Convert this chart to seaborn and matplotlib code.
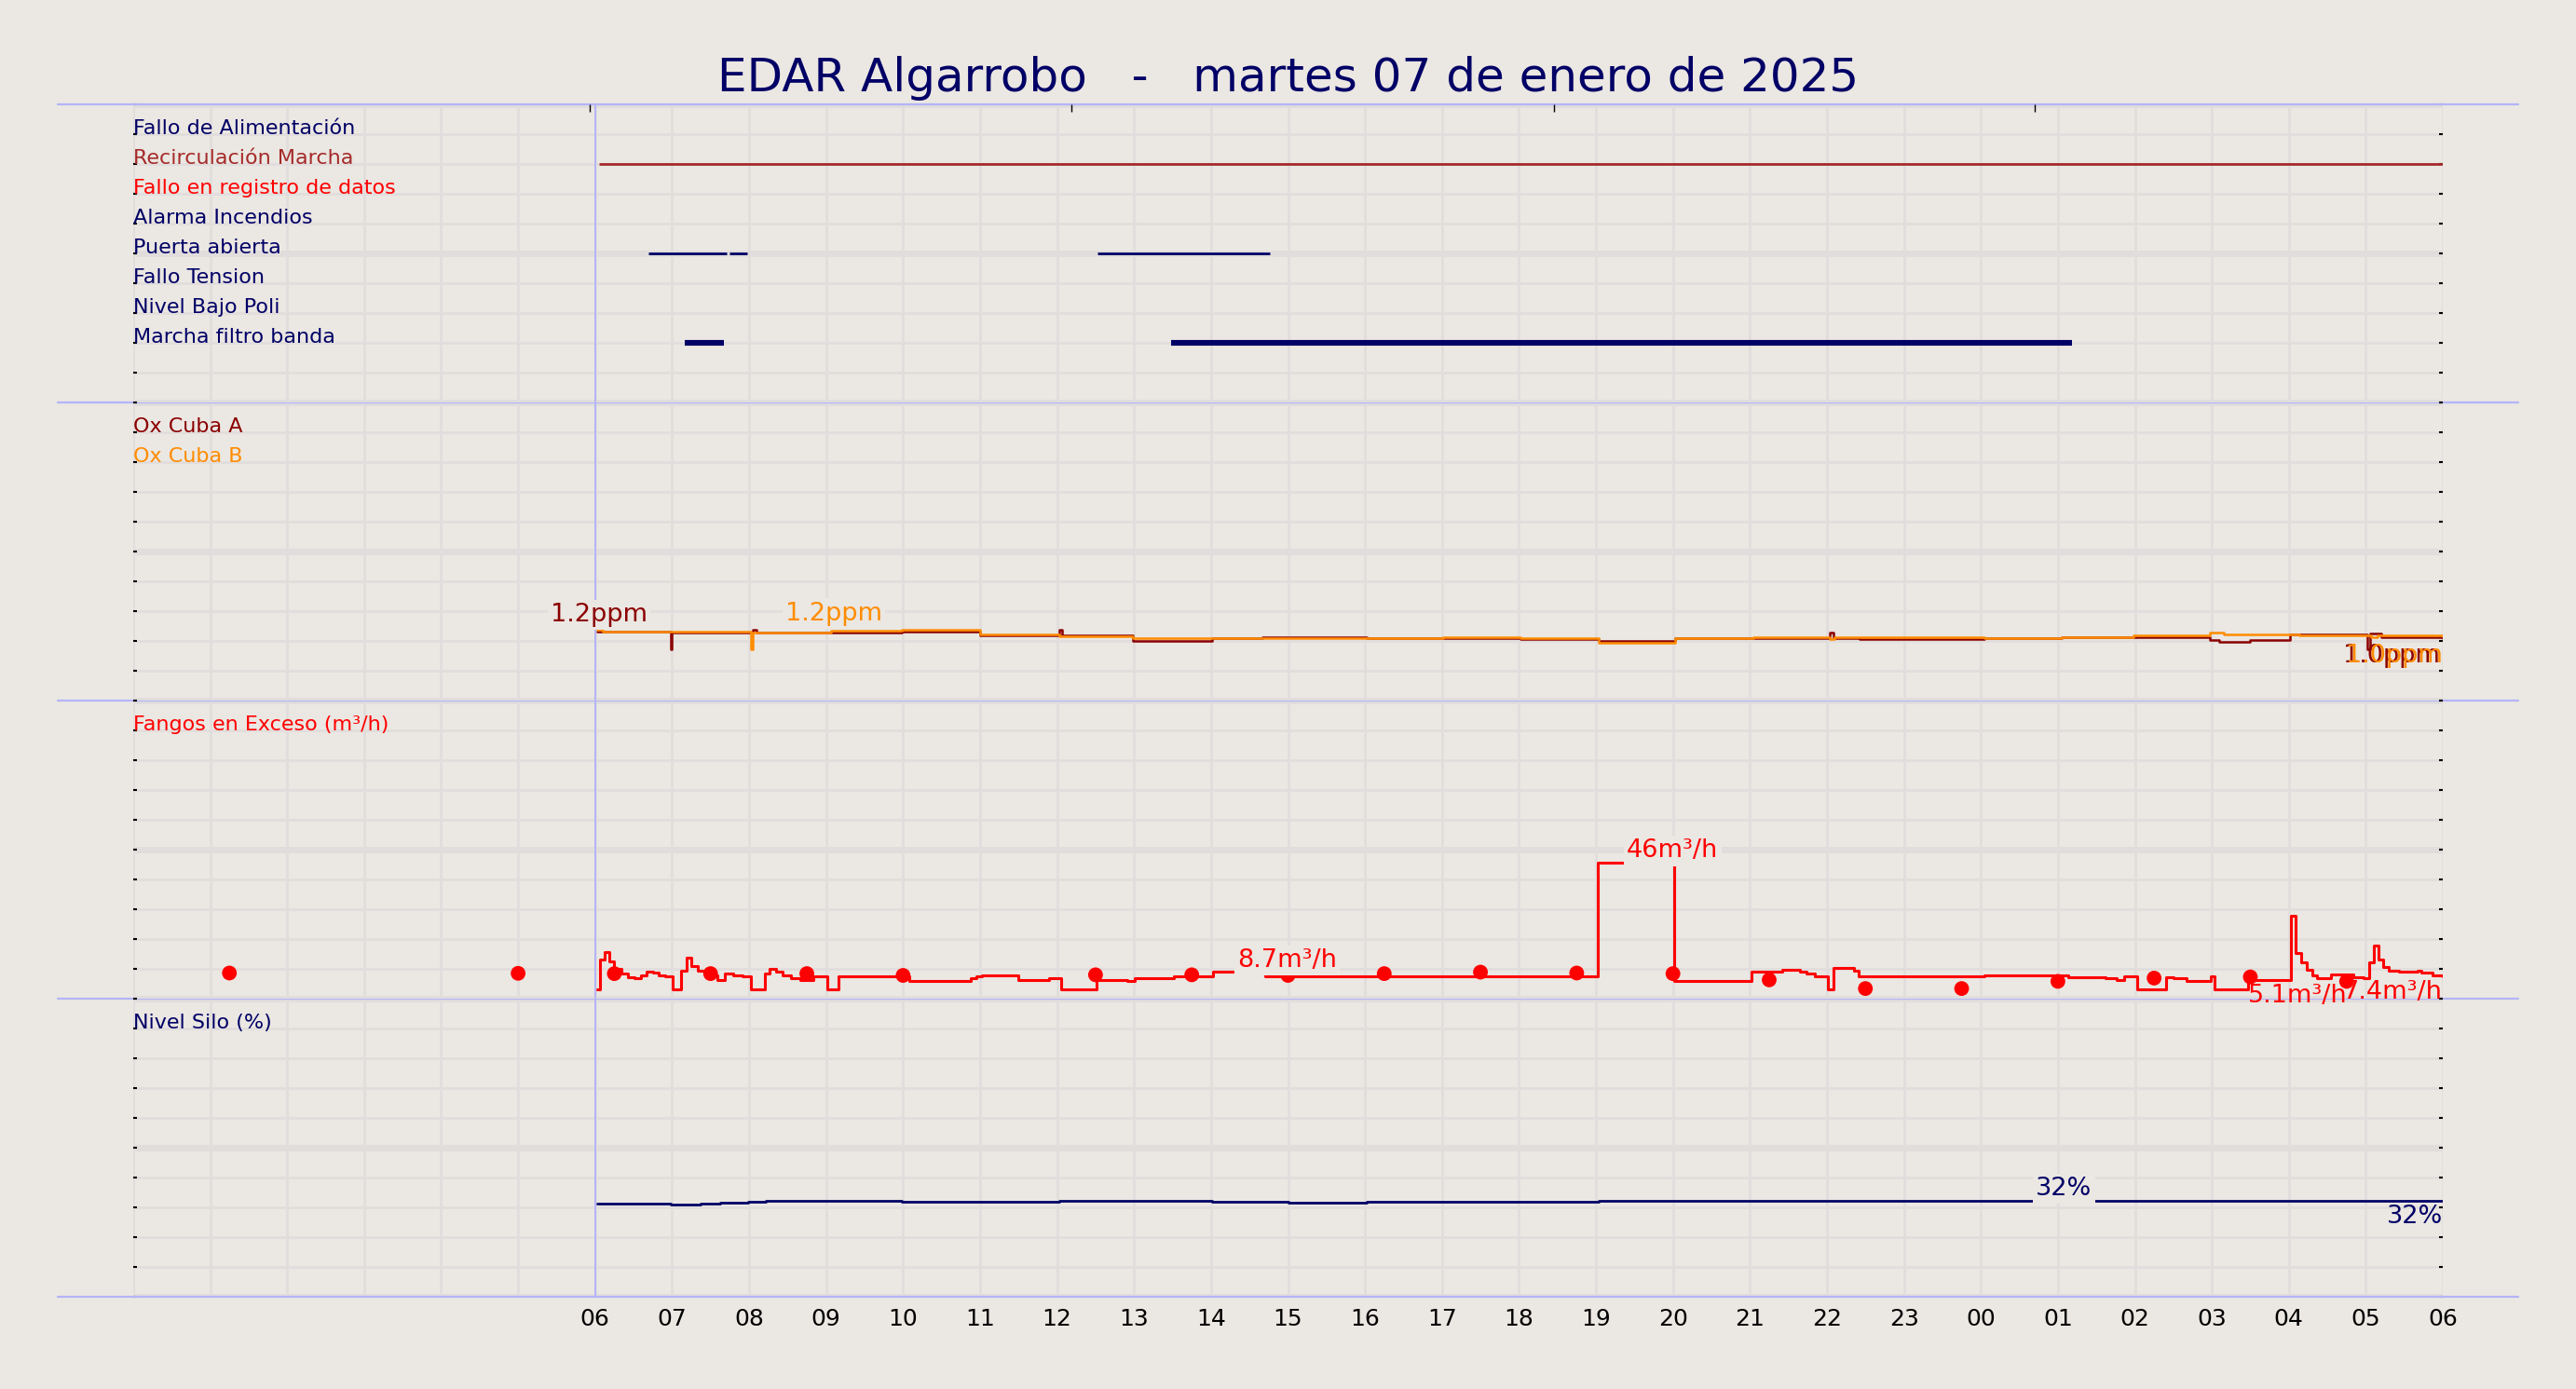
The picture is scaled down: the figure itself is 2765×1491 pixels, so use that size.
import matplotlib
matplotlib.use("Agg")
from matplotlib import pyplot as plt
from matplotlib.lines import Line2D
from matplotlib.ticker import MultipleLocator, FixedLocator, FuncFormatter, NullFormatter
import matplotlib.transforms as mtransforms
import seaborn as sns

# %%
# Datos (horas desde las 00:00 del 07/01/2025)
TITLE = "EDAR Algarrobo   -   martes 07 de enero de 2025"

X_START, X_END = 0, 30
DAY_START = 6

ALARM_LABELS = ["Fallo de Alimentación", "Recirculación Marcha", "Fallo en registro de datos",
                "Alarma Incendios", "Puerta abierta", "Fallo Tension", "Nivel Bajo Poli",
                "Marcha filtro banda"]
ALARM_LEVELS = [0.9, 0.8, 0.7, 0.6, 0.5, 0.4, 0.3, 0.2]

RECIRC_ON = [6.05]
RECIRC_OFF = [30.0]
PUERTA_ON = [6.69, 7.74, 12.52]
PUERTA_OFF = [7.71, 7.97, 14.77]
FILTRO_ON = [7.17, 13.48]
FILTRO_OFF = [7.67, 25.18]

TOP_MARKS = [5.93, 12.19, 18.45, 24.70]

OXA_H = [6.03, 6.98, 7.00, 8.05, 8.10, 9.07, 9.99, 11.00, 12.03, 12.06, 12.98, 14.01,
         14.67, 16.02, 17.02, 18.02, 19.03, 20.03, 21.04, 22.04, 22.08, 22.43, 24.05,
         25.05, 25.08, 25.98, 26.98, 27.10, 27.50, 28.02, 29.02, 29.05, 29.20, 30.0]
OXA_V = [1.15, 0.86, 1.14, 1.19, 1.14, 1.14, 1.16, 1.10, 1.19, 1.10, 1.00, 1.04,
         1.06, 1.04, 1.04, 1.03, 1.00, 1.04, 1.04, 1.14, 1.04, 1.03, 1.04,
         1.07, 1.06, 1.07, 1.01, 0.98, 1.01, 1.11, 0.86, 1.13, 1.06, 1.05]

OXB_H = [6.03, 6.10, 8.02, 8.05, 9.07, 9.99, 11.00, 12.03, 12.98, 14.01, 16.02, 17.02,
         18.02, 19.03, 20.03, 21.04, 22.04, 22.10, 24.05, 25.05, 25.98, 26.98, 27.15,
         28.14, 29.07, 29.15, 30.0]
OXB_V = [1.18, 1.15, 0.86, 1.14, 1.17, 1.19, 1.11, 1.08, 1.05, 1.04, 1.04, 1.06,
         1.04, 0.97, 1.05, 1.07, 1.03, 1.07, 1.05, 1.07, 1.10, 1.14, 1.11,
         1.10, 1.06, 1.09, 1.08]

FANGOS_H = [6.03, 6.06, 6.12, 6.19, 6.24, 6.34, 6.43, 6.51, 6.59, 6.67, 6.75, 6.83, 6.91,
            7.01, 7.12, 7.19, 7.25, 7.33, 7.43, 7.59, 7.69, 7.79, 7.91, 8.02, 8.21, 8.27,
            8.35, 8.43, 8.55, 8.67, 8.84, 9.02, 9.16, 10.08, 10.88, 10.95, 11.02, 11.50,
            11.89, 12.05, 12.51, 12.91, 13.01, 13.52, 14.02, 14.70, 16.02, 16.45, 19.02,
            20.02, 21.02, 21.42, 21.65, 21.73, 21.84, 22.01, 22.08, 22.35, 22.41, 24.04,
            25.13, 25.62, 25.76, 25.86, 26.03, 26.40, 26.50, 26.67, 26.99, 27.03, 27.47,
            28.03, 28.09, 28.16, 28.23, 28.30, 28.37, 28.55, 28.84, 28.97, 29.04, 29.10,
            29.16, 29.23, 29.30, 29.43, 29.67, 29.72, 29.87, 30.0]
FANGOS_V = [3.2, 13.1, 15.7, 12.5, 9.9, 8.3, 7.3, 6.8, 7.9, 9.1, 8.6, 7.9, 7.4,
            3.2, 9.5, 13.6, 11.0, 9.5, 7.9, 6.3, 8.3, 7.9, 7.4, 3.2, 8.3, 9.9,
            9.0, 7.9, 6.8, 6.3, 7.4, 3.2, 7.4, 5.9, 6.8, 7.4, 7.9, 6.3,
            6.8, 3.2, 6.3, 5.9, 6.8, 7.4, 9.0, 7.4, 7.6, 7.4, 45.5,
            6.0, 9.0, 9.7, 9.2, 8.4, 7.6, 3.2, 10.3, 9.5, 7.4, 7.9,
            7.2, 6.9, 6.1, 7.4, 3.2, 7.2, 6.9, 5.8, 7.4, 3.2, 6.2,
            27.9, 15.2, 12.2, 9.6, 7.9, 6.9, 8.2, 7.2, 6.9, 12.2, 17.7,
            13.2, 10.6, 9.4, 9.1, 9.4, 8.6, 7.9, 7.4]

MUESTRA_H = [1.25, 5.0, 6.25, 7.5, 8.75, 10.0, 12.5, 13.75, 15.0, 16.25, 17.5, 18.75,
             20.0, 21.25, 22.5, 23.75, 25.0, 26.25, 27.5, 28.75]
MUESTRA_V = [8.6, 8.5, 8.4, 8.4, 8.4, 7.8, 8.0, 8.0, 7.8, 8.4, 8.9, 8.6,
             8.4, 6.3, 3.4, 3.4, 5.8, 6.9, 7.3, 5.8]

SILO_H = [6.03, 6.98, 7.37, 7.63, 7.99, 8.22, 9.99, 12.03, 14.01, 15.01, 16.02, 19.03, 30.0]
SILO_V = [31.2, 30.8, 31.1, 31.5, 31.8, 32.1, 31.8, 32.2, 31.9, 31.6, 32.0, 32.2, 32.2]

# %%
BG = "#ebe7e2"
GRID = "#e1dddc"
SEP = "#b4b4f8"
NAVY = "#000066"
BROWN = "#a52a2a"
DARKRED = "#8b0000"
ORANGE = "#ff8c00"
RED = "#ff0000"

sns.set_theme(style="whitegrid")
plt.rcParams["font.family"] = ["DejaVu Sans"]


def style_panel(ax, ymax):
    ax.set_facecolor("none")
    ax.set_xlim(X_START, X_END)
    ax.set_ylim(0, ymax)
    ax.set_axisbelow(True)
    ax.yaxis.set_major_locator(MultipleLocator(ymax / 2))
    ax.yaxis.set_minor_locator(MultipleLocator(ymax / 10))
    ax.xaxis.set_major_locator(MultipleLocator(1))
    ax.grid(which="major", axis="y", color=GRID, lw=5)
    ax.grid(which="minor", axis="y", color=GRID, lw=1.9)
    ax.grid(which="major", axis="x", color=GRID, lw=1.9)
    ax.tick_params(axis="y", which="both", left=True, right=True, direction="in",
                   length=3, width=1.5, color="black", labelleft=False, labelright=False)
    ax.tick_params(axis="x", which="both", length=0, labelsize=18, pad=9, colors="black")
    ax.set_xlabel("")
    ax.set_ylabel("")
    for s in ax.spines.values():
        s.set_visible(False)
    ax.axvline(DAY_START, color=SEP, lw=1.4, zorder=1.5)
    ax.add_line(Line2D([-0.0327, 1.0327], [1, 1], transform=ax.transAxes, clip_on=False,
                       color=SEP, lw=1.6, zorder=1.5))


def label(ax, y, text, color):
    trans = mtransforms.blended_transform_factory(ax.transAxes, ax.transData)
    ax.text(0.0, y, text, transform=trans, ha="left", va="baseline", fontsize=16, color=color)


def note(ax, text, x, y, color, ha, va, dy, box=True, z=6):
    bbox = dict(boxstyle="square,pad=0.12", fc=BG, ec="none") if box else None
    ax.annotate(text, xy=(x, y), xytext=(0, dy), textcoords="offset points", ha=ha, va=va,
                fontsize=19.5, color=color, zorder=z, annotation_clip=False, bbox=bbox)


def events(ax, level, starts, ends, color, lw):
    ax.hlines([level] * len(starts), starts, ends, color=color, lw=lw, zorder=3)


fig, axes = plt.subplots(4, 1, figsize=(27.65, 14.91), dpi=100, sharex=True)
fig.set_facecolor(BG)
fig.subplots_adjust(left=0.0517, right=0.9483, top=0.9249, bottom=0.0664, hspace=0)
fig.suptitle(TITLE, y=0.9343, va="baseline", fontsize=36, color=NAVY)
ax1, ax2, ax3, ax4 = axes
for i, ax in enumerate(axes):
    ax.set_zorder(10 - i)

# Panel 1: alarmas y marchas
style_panel(ax1, 1.0)
alarm_colors = [NAVY, BROWN, RED, NAVY, NAVY, NAVY, NAVY, NAVY]
for lvl, txt, col in zip(ALARM_LEVELS, ALARM_LABELS, alarm_colors):
    label(ax1, lvl, txt, col)
events(ax1, ALARM_LEVELS[1], RECIRC_ON, RECIRC_OFF, BROWN, 2)
events(ax1, ALARM_LEVELS[4], PUERTA_ON, PUERTA_OFF, NAVY, 2)
events(ax1, ALARM_LEVELS[7], FILTRO_ON, FILTRO_OFF, NAVY, 4.4)
top = ax1.twiny()
top.set_xlim(X_START, X_END)
top.xaxis.set_major_locator(FixedLocator(TOP_MARKS))
top.xaxis.set_major_formatter(NullFormatter())
top.tick_params(axis="x", direction="in", length=6, width=1, color="black", pad=0)
top.grid(False)
for s in top.spines.values():
    s.set_visible(False)

# Panel 2: oxigeno
style_panel(ax2, 5.0)
label(ax2, 4.5, "Ox Cuba A", DARKRED)
label(ax2, 4.0, "Ox Cuba B", ORANGE)
sns.lineplot(x=OXA_H, y=OXA_V, ax=ax2, color=DARKRED, lw=1.8, drawstyle="steps-post",
             estimator=None, zorder=3)
sns.lineplot(x=OXB_H, y=OXB_V, ax=ax2, color=ORANGE, lw=1.8, drawstyle="steps-post",
             estimator=None, zorder=3.1)
note(ax2, "1.2ppm", OXA_H[0] + 0.02, OXA_V[0], DARKRED, "center", "bottom", 4)
note(ax2, "1.2ppm", 9.10, 1.17, ORANGE, "center", "bottom", 4)
end_ox = min(OXA_V[-1], OXB_V[-1])
ax2.annotate("1.0ppm", xy=(OXA_H[-1] - 0.04, end_ox), xytext=(0, -4.5), textcoords="offset points",
             ha="right", va="top", fontsize=19.5, color=DARKRED, zorder=6, annotation_clip=False)
ax2.annotate("1.0ppm", xy=(OXB_H[-1], end_ox), xytext=(0, -4.5), textcoords="offset points",
             ha="right", va="top", fontsize=19.5, color=ORANGE, zorder=6.1, annotation_clip=False)

# Panel 3: fangos en exceso
style_panel(ax3, 100)
label(ax3, 90, "Fangos en Exceso (m³/h)", RED)
sns.lineplot(x=FANGOS_H, y=FANGOS_V, ax=ax3, color=RED, lw=2.2, drawstyle="steps-post",
             estimator=None, zorder=3)
sns.scatterplot(x=MUESTRA_H, y=MUESTRA_V, ax=ax3, color=RED, s=130, edgecolor="none",
                zorder=4)
note(ax3, "8.7m³/h", 14.34, 8.7, RED, "left", "bottom", 0)
note(ax3, "46m³/h", 19.40, 45.5, RED, "left", "bottom", 0)
note(ax3, "7.4m³/h", FANGOS_H[-1], FANGOS_V[-1], RED, "right", "top", -3, box=False, z=6)
note(ax3, "5.1m³/h", 27.47, 6.2, RED, "left", "top", -2.5, box=False, z=6.5)

# Panel 4: nivel silo
style_panel(ax4, 100)
label(ax4, 90, "Nivel Silo (%)", NAVY)
sns.lineplot(x=SILO_H, y=SILO_V, ax=ax4, color=NAVY, lw=2, drawstyle="steps-post",
             estimator=None, zorder=3)
note(ax4, "32%", 25.08, 32.2, NAVY, "center", "bottom", 0)
note(ax4, "32%", SILO_H[-1], SILO_V[-1], NAVY, "right", "top", -3, box=False)
ax4.add_line(Line2D([-0.0327, 1.0327], [0, 0], transform=ax4.transAxes, clip_on=False,
                    color=SEP, lw=1.6, zorder=1.5))
ax4.xaxis.set_major_formatter(FuncFormatter(lambda h, pos: f"{int(round(h)) % 24:02d}" if h >= DAY_START else ""))

fig.savefig("out.png", dpi=100, facecolor=BG)
